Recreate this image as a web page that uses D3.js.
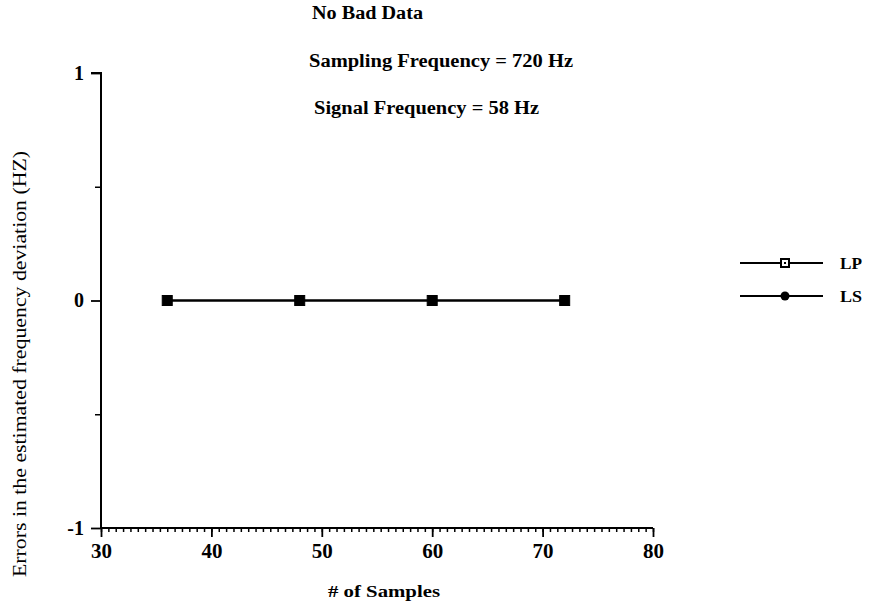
<!DOCTYPE html>
<html><head><meta charset="utf-8">
<script src="https://cdn.jsdelivr.net/npm/d3@7"></script>
<style>
body{margin:0;background:#fff;}
text{font-family:"Liberation Serif","Times New Roman",serif;fill:#000;}
</style></head>
<body>
<svg id="chart" width="879" height="605"></svg>
<script>
const samples = [36, 48, 60, 72];
const lpValues = [0, 0, 0, 0];
const lsValues = [0, 0, 0, 0];
const xTicks = [30, 40, 50, 60, 70, 80];
const yTicks = [-1, 0, 1];
const yMinorTicks = [-0.5, 0.5];
const seriesNames = ["LP", "LS"];
const titleLines = ["No Bad Data", "Sampling Frequency = 720 Hz", "Signal Frequency = 58 Hz"];

const svg = d3.select("#chart");
const x = d3.scaleLinear().domain([30, 80]).range([101, 653]);
const y = d3.scaleLinear().domain([-1, 1]).range([528, 73]);
const fmt = d => String(d);

// titles
const titlePos = [[312, 19, 111], [309, 67, 264], [314, 114, 225]];
titleLines.forEach((t, i) => {
  svg.append("text").attr("x", titlePos[i][0]).attr("y", titlePos[i][1])
    .attr("textLength", titlePos[i][2]).attr("lengthAdjust", "spacingAndGlyphs")
    .style("font-size", "18px").style("font-weight", "bold").text(t);
});

// y axis
const yAxis = d3.axisLeft(y).tickValues(yTicks).tickFormat(fmt).tickSize(10).tickPadding(7);
const gy = svg.append("g").attr("transform", `translate(${x(30)},0)`).call(yAxis);
gy.attr("font-size", 20).attr("font-family", "Liberation Serif, serif").attr("font-weight", "bold");
gy.select(".domain").attr("stroke-width", 2).attr("d", `M-10,${y(1)}H0V${y(-1)}`);
gy.selectAll(".tick line").attr("stroke-width", 1.8);
svg.append("g").attr("transform", `translate(${x(30)},0)`)
  .call(d3.axisLeft(y).tickValues(yMinorTicks).tickSize(6).tickFormat(""))
  .call(g => g.select(".domain").remove())
  .selectAll(".tick line").attr("stroke-width", 1.5);

// x axis minor ticks
const minor = d3.range(0, 76).map(i => 30 + i * 10 / 15).filter(v => v <= 80.001);
svg.append("g").attr("transform", `translate(0,${y(-1)})`)
  .call(d3.axisBottom(x).tickValues(minor).tickSize(4).tickFormat(""))
  .call(g => g.select(".domain").remove())
  .selectAll(".tick line").attr("stroke-width", 1.5);
const xAxis = d3.axisBottom(x).tickValues(xTicks).tickFormat(fmt).tickSize(9).tickPadding(6);
const gx = svg.append("g").attr("transform", `translate(0,${y(-1)})`).call(xAxis);
gx.attr("font-size", 21).attr("font-family", "Liberation Serif, serif").attr("font-weight", "bold");
gx.select(".domain").attr("stroke-width", 2).attr("d", `M${x(30)},0H${x(80)}`);
gx.selectAll(".tick line").attr("stroke-width", 1.8);

// axis titles
svg.append("text").attr("x", 384).attr("y", 597).attr("text-anchor", "middle")
  .attr("textLength", 112).attr("lengthAdjust", "spacingAndGlyphs")
  .style("font-size", "17px").style("font-weight", "bold").text("# of Samples");
svg.append("text").attr("transform", `translate(26,364) rotate(-90)`)
  .attr("text-anchor", "middle").attr("textLength", 426).attr("lengthAdjust", "spacingAndGlyphs")
  .style("font-size", "18px")
  .text("Errors in the estimated frequency deviation (HZ)");

// lines
const line = d3.line().x(d => x(d[0])).y(d => y(d[1]));
const lpData = samples.map((s, i) => [s, lpValues[i]]);
const lsData = samples.map((s, i) => [s, lsValues[i]]);
svg.append("path").datum(lsData).attr("d", line).attr("fill", "none").attr("stroke", "#000").attr("stroke-width", 2);
svg.append("path").datum(lpData).attr("d", line).attr("fill", "none").attr("stroke", "#000").attr("stroke-width", 2);
svg.selectAll(".ls").data(lsData).enter().append("circle")
  .attr("cx", d => x(d[0])).attr("cy", d => y(d[1])).attr("r", 4).attr("fill", "#000");
svg.selectAll(".lp").data(lpData).enter().append("rect")
  .attr("x", d => x(d[0]) - 5).attr("y", d => y(d[1]) - 5).attr("width", 10).attr("height", 10)
  .attr("fill", "#000").attr("stroke", "#000").attr("stroke-width", 1);

// legend
const legY = [263, 296];
seriesNames.forEach((n, i) => {
  const g = svg.append("g");
  g.append("line").attr("x1", 740).attr("x2", 823).attr("y1", legY[i]).attr("y2", legY[i])
    .attr("stroke", "#000").attr("stroke-width", 2);
  if (i === 0) {
    g.append("rect").attr("x", 781).attr("y", legY[i] - 4).attr("width", 8).attr("height", 8)
      .attr("fill", "#fff").attr("stroke", "#000").attr("stroke-width", 2);
    g.append("rect").attr("x", 784).attr("y", legY[i] - 1).attr("width", 2).attr("height", 2).attr("fill", "#000");
  } else {
    g.append("circle").attr("cx", 785).attr("cy", legY[i]).attr("r", 4.5).attr("fill", "#000");
  }
  g.append("text").attr("x", 840).attr("y", legY[i] + 6).attr("textLength", 22)
    .attr("lengthAdjust", "spacingAndGlyphs")
    .style("font-size", "17px").style("font-weight", "bold").text(n);
});
</script>
</body></html>
